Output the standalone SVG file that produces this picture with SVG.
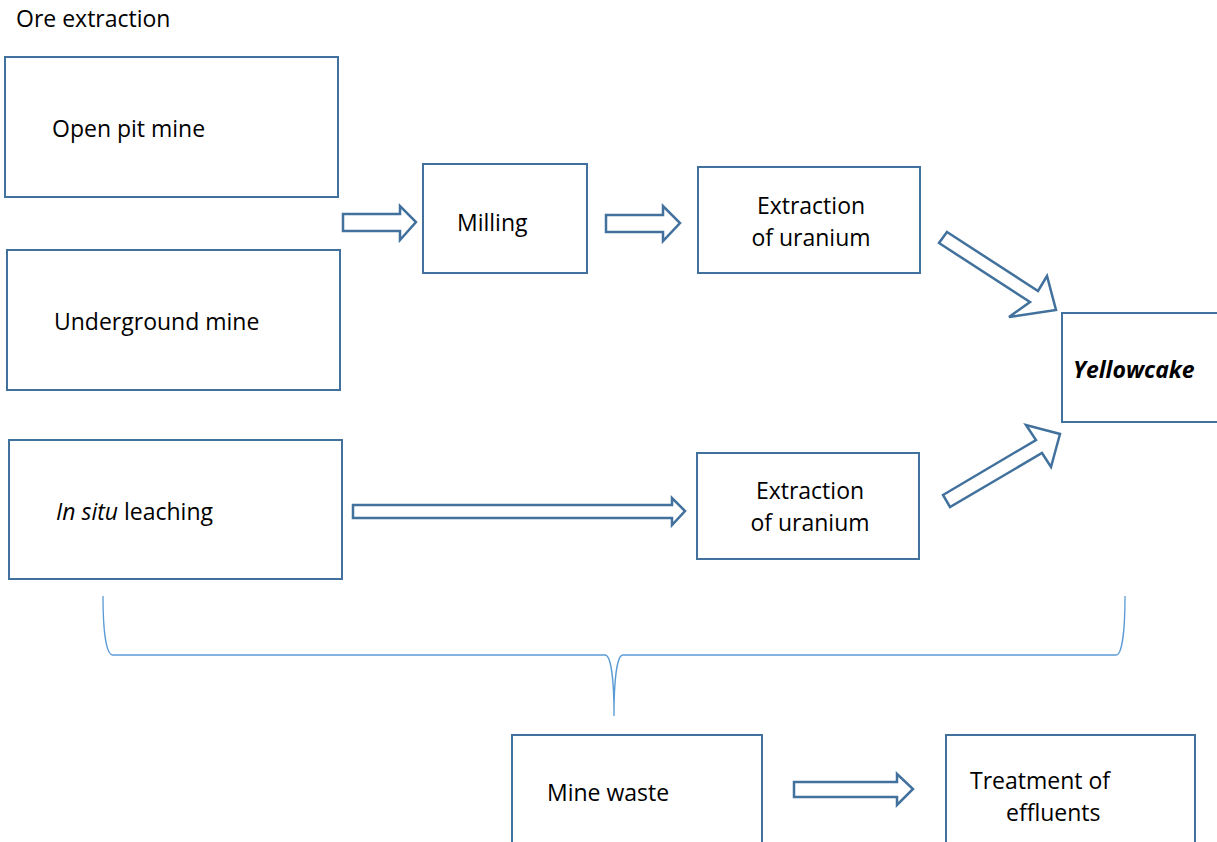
<svg xmlns="http://www.w3.org/2000/svg" width="1217" height="842" viewBox="0 0 1217 842">
<style>
.box{fill:#fff;stroke:#41719C;stroke-width:2}
.arr{fill:#fff;stroke:#41719C;stroke-width:2.5;stroke-linejoin:miter}
.brace{fill:none;stroke:#5B9BD5;stroke-width:1.3}
text{font-family:"Open Sans","Liberation Sans",sans-serif;font-size:23px;fill:#000}
.c{text-anchor:middle}
</style>
<rect width="1217" height="842" fill="#fff"/>
<text x="16" y="27">Ore extraction</text>
<g id="open-pit"><rect class="box" x="5" y="57" width="333" height="140"/><text x="52" y="137">Open pit mine</text></g>
<g id="underground"><rect class="box" x="7" y="250" width="333" height="140"/><text x="54" y="330">Underground mine</text></g>
<g id="insitu"><rect class="box" x="9" y="440" width="333" height="139"/><text x="56" y="520"><tspan font-style="italic">In situ</tspan> leaching</text></g>
<g id="milling"><rect class="box" x="423" y="164" width="164" height="109"/><text x="457" y="231">Milling</text></g>
<g id="extraction1"><rect class="box" x="698" y="167" width="222" height="106"/><text class="c" x="811" y="214">Extraction</text><text class="c" x="811" y="246">of uranium</text></g>
<g id="extraction2"><rect class="box" x="697" y="453" width="222" height="106"/><text class="c" x="810" y="499">Extraction</text><text class="c" x="810" y="531">of uranium</text></g>
<g id="yellowcake"><rect class="box" x="1062" y="313" width="160" height="109"/><text x="1073" y="378" font-weight="bold" font-style="italic">Yellowcake</text></g>
<g id="mine-waste"><rect class="box" x="512" y="735" width="250" height="115"/><text x="547" y="801">Mine waste</text></g>
<g id="treatment"><rect class="box" x="946" y="735" width="249" height="115"/><text x="970" y="789">Treatment of</text><text x="1006" y="821">effluents</text></g>
<g id="connectors">
<polygon class="arr" points="343,214 400,214 400,206 416,222 400,240 400,231 343,231"/>
<polygon class="arr" points="606,215 663,215 663,206 680,223 663,241 663,232 606,232"/>
<polygon class="arr" points="353,505 672,505 672,498 685,511 672,525 672,518 353,518"/>
<polygon class="arr" points="794,782 897,782 897,774 913,789 897,805 897,797 794,797"/>
<polygon class="arr" points="947,232 1038,291 1047,276 1056,310 1009,317 1030,302 939,243"/>
<polygon class="arr" points="943,495 1036,440 1026,425 1060,434 1051,467 1042,453 950,507"/>
<path class="brace" d="M103,596 C103,630 106,655 113,655 L605,655 C611,655 614,680 614,716 C614,680 617,655 623,655 L1116,655 C1122,655 1125,630 1125,596"/>
</g>
</svg>
